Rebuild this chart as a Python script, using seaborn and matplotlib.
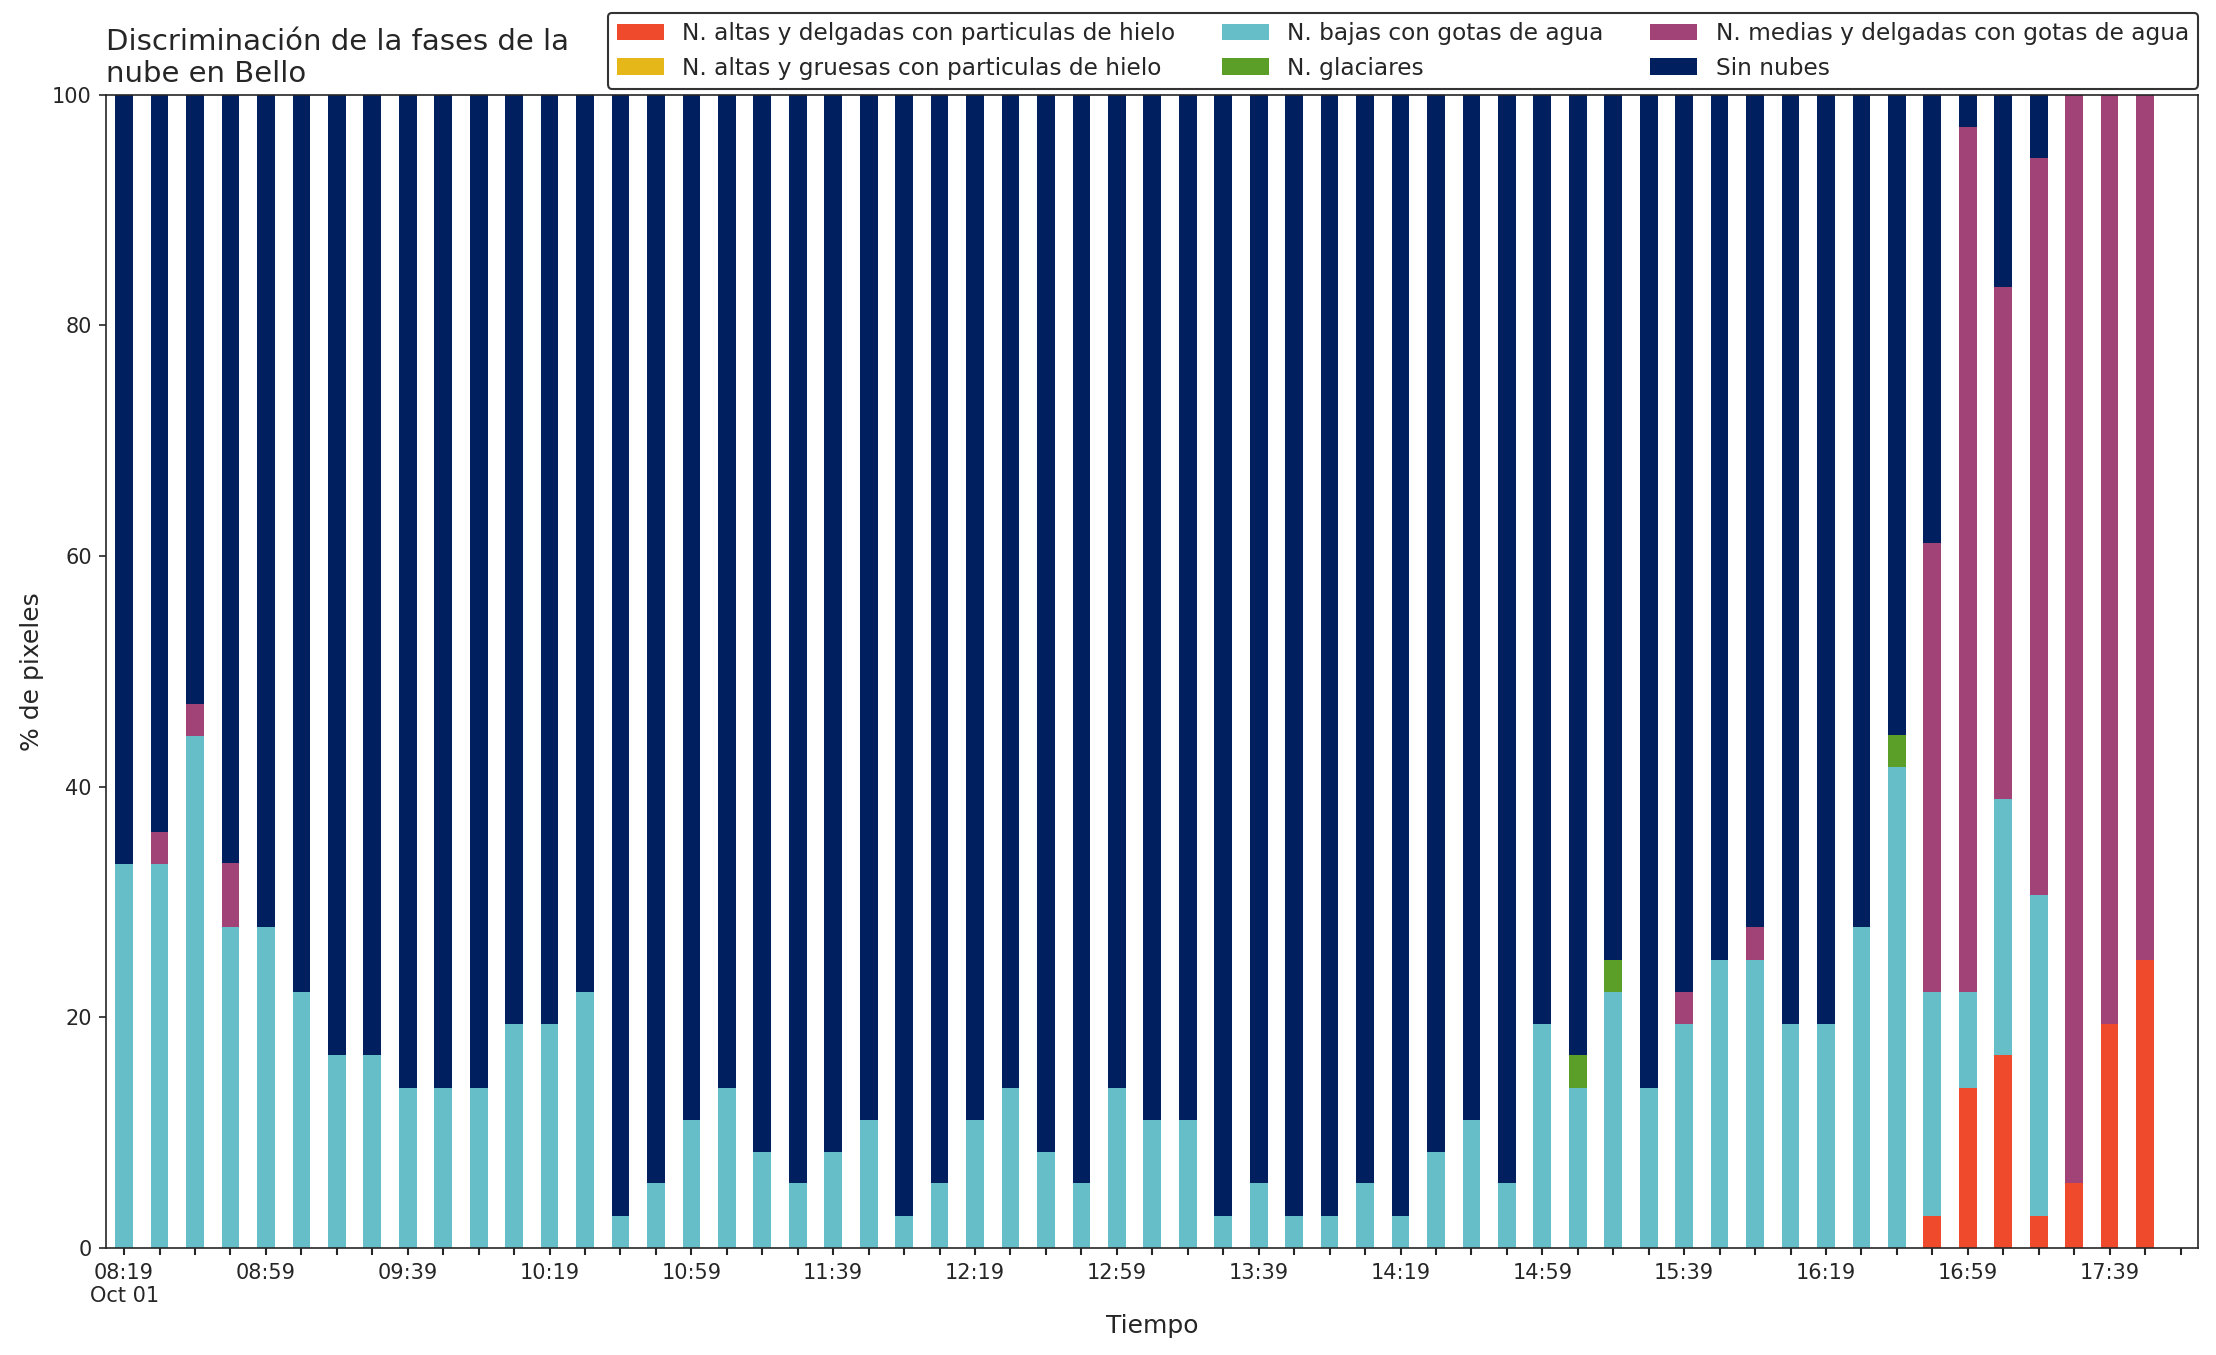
import numpy as np
import pandas as pd
import seaborn as sns
import matplotlib.pyplot as plt

# --------------------------------------------------#
# Datos (% de pixeles por categoria, cada 10 min)
# --------------------------------------------------#

horas = pd.date_range("2021-10-01 08:19", periods=58, freq="10min")

categorias = [
    "N. altas y delgadas con particulas de hielo",
    "N. altas y gruesas con particulas de hielo",
    "N. bajas con gotas de agua",
    "N. glaciares",
    "N. medias y delgadas con gotas de agua",
    "Sin nubes",
]
colores = ["#EF4A2B", "#E5B719", "#66BEC9", "#5B9E28", "#A24377", "#001F5F"]

altas_delgadas = [0] * 51 + [2.8, 13.9, 16.7, 2.8, 5.6, 19.4, 25.0]
altas_gruesas = [0] * 58
bajas = [33.3, 33.3, 44.4, 27.8, 27.8, 22.2, 16.7, 16.7, 13.9, 13.9,
         13.9, 19.4, 19.4, 22.2, 2.8, 5.6, 11.1, 13.9, 8.3, 5.6,
         8.3, 11.1, 2.8, 5.6, 11.1, 13.9, 8.3, 5.6, 13.9, 11.1,
         11.1, 2.8, 5.6, 2.8, 2.8, 5.6, 2.8, 8.3, 11.1, 5.6,
         19.4, 13.9, 22.2, 13.9, 19.4, 25.0, 25.0, 19.4, 19.4, 27.8,
         41.7, 19.4, 8.3, 22.2, 27.8, 0, 0, 0]
glaciares = [0] * 41 + [2.8, 2.8] + [0] * 7 + [2.8] + [0] * 7
medias = [0, 2.8, 2.8, 5.6] + [0] * 40 + [2.8, 0, 2.8, 0, 0, 0, 0,
          38.9, 75.0, 44.4, 63.9, 94.4, 80.6, 75.0]
sin_nubes = [66.7, 63.9, 52.8, 66.7, 72.2, 77.8, 83.3, 83.3, 86.1, 86.1,
             86.1, 80.6, 80.6, 77.8, 97.2, 94.4, 88.9, 86.1, 91.7, 94.4,
             91.7, 88.9, 97.2, 94.4, 88.9, 86.1, 91.7, 94.4, 86.1, 88.9,
             88.9, 97.2, 94.4, 97.2, 97.2, 94.4, 97.2, 91.7, 88.9, 94.4,
             80.6, 83.3, 75.0, 86.1, 77.8, 75.0, 72.2, 80.6, 80.6, 72.2,
             55.6, 38.9, 2.8, 16.7, 5.6, 0, 0, 0]

series = [altas_delgadas, altas_gruesas, bajas, glaciares, medias, sin_nubes]

df = pd.DataFrame(dict(zip(categorias, series)))
df["hora"] = horas.strftime("%H:%M")
acum = df[categorias].cumsum(axis=1)
acum["hora"] = df["hora"]

# --------------------------------------------------#
# Grafico
# --------------------------------------------------#

sns.set_style("ticks")
plt.rcParams["font.family"] = ["DejaVu Sans"]

fig, ax = plt.subplots(figsize=(2216 / 150, 1355 / 150), dpi=150)
fig.subplots_adjust(left=0.048, right=0.992, bottom=0.079, top=0.930)

# barras apiladas: se dibuja del acumulado mayor al menor
for cat, col in reversed(list(zip(categorias, colores))):
    sns.barplot(data=acum, x="hora", y=cat, color=col, saturation=1,
                width=0.5, linewidth=0, errorbar=None, label=cat, ax=ax)

handles, labels = ax.get_legend_handles_labels()
orden = [labels.index(c) for c in categorias]
ax.legend([handles[i] for i in orden], categorias, ncol=3, loc="lower right",
          bbox_to_anchor=(1.0, 1.005), borderaxespad=0, fontsize=11.2,
          edgecolor="0.2", framealpha=1)

n = len(horas)
etiquetas = [h.strftime("%H:%M") for h in horas[::4]]
etiquetas[0] = etiquetas[0] + "\n" + horas[0].strftime("%b %d")
ax.set_xticks(np.arange(0, n, 4))
ax.set_xticklabels(etiquetas)
ax.set_xticks([i for i in range(n + 1) if i % 4 != 0], minor=True)
ax.tick_params(axis="x", which="both", length=3.5, width=1, labelsize=10)
ax.tick_params(axis="y", length=3.5, labelsize=10)
ax.set_xlim(-0.5, n + 0.5)
ax.set_ylim(0, 100)
ax.set_yticks(np.arange(0, 101, 20))

ax.set_xlabel("Tiempo", fontsize=12)
ax.set_ylabel("% de pixeles", fontsize=12)
ax.set_title("Discriminación de la fases de la\nnube en Bello", loc="left", fontsize=14)

plt.savefig("out.png", dpi=150)
